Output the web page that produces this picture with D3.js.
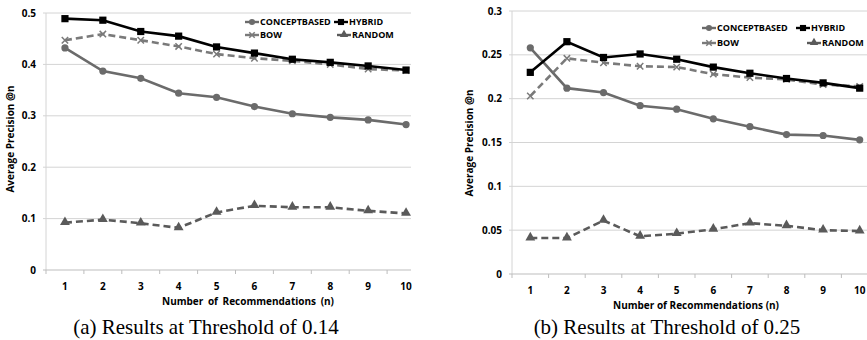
<!DOCTYPE html>
<html>
<head>
<meta charset="utf-8">
<script src="https://cdn.jsdelivr.net/npm/d3@7"></script>
<style>
  body { margin: 0; background: #fff; }
  svg { display: block; }
  .tick-label, .axis-title, .legend-text { font-family: "Open Sans", "DejaVu Sans", sans-serif; font-weight: bold; fill: #000; }
  .caption { font-family: "Liberation Serif", "Times New Roman", serif; fill: #000; }
</style>
</head>
<body>
<svg id="chart" width="867" height="340"></svg>
<script>
// categories (number of recommendations)
var nValues = [1, 2, 3, 4, 5, 6, 7, 8, 9, 10];
var seriesNames = ["CONCEPTBASED", "HYBRID", "BOW", "RANDOM"];

// (a) threshold 0.14
var conceptA = [0.432, 0.387, 0.373, 0.344, 0.336, 0.318, 0.304, 0.297, 0.292, 0.283];
var hybridA  = [0.489, 0.486, 0.464, 0.455, 0.434, 0.422, 0.410, 0.404, 0.397, 0.389];
var bowA     = [0.447, 0.459, 0.447, 0.435, 0.420, 0.412, 0.407, 0.400, 0.391, 0.388];
var randomA  = [0.092, 0.098, 0.091, 0.082, 0.112, 0.125, 0.122, 0.122, 0.115, 0.110];
var ticksA   = [0, 0.1, 0.2, 0.3, 0.4, 0.5];

// (b) threshold 0.25
var conceptB = [0.258, 0.212, 0.207, 0.192, 0.188, 0.177, 0.168, 0.159, 0.158, 0.153];
var hybridB  = [0.230, 0.265, 0.247, 0.251, 0.245, 0.236, 0.229, 0.223, 0.218, 0.212];
var bowB     = [0.203, 0.246, 0.241, 0.237, 0.236, 0.228, 0.224, 0.222, 0.216, 0.214];
var randomB  = [0.041, 0.041, 0.061, 0.043, 0.046, 0.051, 0.058, 0.055, 0.050, 0.049];
var ticksB   = [0, 0.05, 0.1, 0.15, 0.2, 0.25, 0.3];

var styles = {
    CONCEPTBASED : {color: "#6b6b6b", dash: null,  marker: "circle"},
    HYBRID       : {color: "#000000", dash: null,  marker: "square"},
    BOW          : {color: "#7a7a7a", dash: "7,4", marker: "cross"},
    RANDOM       : {color: "#5a5a5a", dash: "7,4", marker: "triangle"}
};

var svg = d3.select("#chart");

function drawMarker (g, kind, x, y, color, s) {
    if (kind === "circle") {
        g.append("circle").attr("cx", x).attr("cy", y).attr("r", 3.6 * s).attr("fill", color);
    } else if (kind === "square") {
        g.append("rect").attr("x", x - 3.6 * s).attr("y", y - 3.6 * s)
            .attr("width", 7.2 * s).attr("height", 7.2 * s).attr("fill", color);
    } else if (kind === "triangle") {
        g.append("path").attr("d", d3.symbol().type(d3.symbolTriangle).size(42 * s * s)())
            .attr("transform", "translate(" + x + "," + (y - 0.5) + ")").attr("fill", color);
    } else {
        var r = 3.2 * s;
        g.append("path").attr("d", "M" + (x - r) + "," + (y - r) + "L" + (x + r) + "," + (y + r) +
                                   "M" + (x - r) + "," + (y + r) + "L" + (x + r) + "," + (y - r))
            .attr("stroke", color).attr("stroke-width", 1.5).attr("fill", "none");
    }
}

function drawPanel (p) {
    var x = d3.scaleBand().domain(nValues).range([p.left, p.left + p.bandStep * nValues.length]),
        y = d3.scaleLinear().domain([0, d3.max(p.ticks)]).range([p.bottom, p.top]),
        g = svg.append("g");

    // gridlines
    g.selectAll(".grid")
        .data(p.ticks.filter(function (t) { return t > 0; }))
        .enter().append("line")
        .attr("x1", p.left - 3).attr("x2", p.gridEnd)
        .attr("y1", function (d) { return y(d); }).attr("y2", function (d) { return y(d); })
        .attr("stroke", "#d4d4d4").attr("stroke-width", 1);

    // y axis
    g.append("line").attr("x1", p.left).attr("x2", p.left).attr("y1", p.top).attr("y2", p.bottom)
        .attr("stroke", "#d4d4d4");
    g.selectAll(".ylab")
        .data(p.ticks).enter().append("text")
        .attr("class", "tick-label")
        .attr("x", p.left - 10).attr("y", function (d) { return y(d); })
        .attr("dy", "0.35em").attr("text-anchor", "end").style("font-size", "10px")
        .text(function (d) { return d; });

    // x axis
    g.append("line").attr("x1", p.left - 3).attr("x2", p.gridEnd).attr("y1", p.bottom).attr("y2", p.bottom)
        .attr("stroke", "#bdbdbd");
    g.selectAll(".xtick")
        .data(nValues).enter().append("line")
        .attr("x1", function (d) { return x(d); }).attr("x2", function (d) { return x(d); })
        .attr("y1", p.bottom).attr("y2", p.bottom + 4)
        .attr("stroke", "#bdbdbd");
    g.selectAll(".xlab")
        .data(nValues).enter().append("text")
        .attr("class", "tick-label")
        .attr("x", function (d) { return x(d) + x.bandwidth() / 2; })
        .attr("y", p.bottom + 20).attr("text-anchor", "middle").style("font-size", "10px")
        .text(function (d) { return d; });

    g.append("text").attr("class", "axis-title")
        .attr("x", p.xTitleX).attr("y", p.bottom + 35).attr("text-anchor", "middle")
        .style("font-size", "10px").style("word-spacing", p.wordSpacing)
        .text("Number of Recommendations (n)");

    g.append("text").attr("class", "axis-title")
        .attr("transform", "translate(" + p.yTitleX + "," + p.yTitleY + ") rotate(-90)")
        .attr("text-anchor", "middle").style("font-size", "10px")
        .text("Average Precision @n");

    // series
    var line = d3.line()
        .x(function (d, i) { return x(nValues[i]) + x.bandwidth() / 2; })
        .y(function (d) { return y(d); });

    var plot = g.append("g");
    ["RANDOM", "CONCEPTBASED", "BOW", "HYBRID"].forEach(function (name) {
        var st = styles[name], vals = p.series[name];
        plot.append("path").datum(vals)
            .attr("d", line).attr("fill", "none")
            .attr("stroke", st.color).attr("stroke-width", 2.6)
            .attr("stroke-dasharray", st.dash);
        vals.forEach(function (v, i) {
            drawMarker(plot, st.marker, x(nValues[i]) + x.bandwidth() / 2, y(v), st.color, 1);
        });
    });

    // legend
    p.legend.forEach(function (it) {
        var st = styles[it.name], lg = g.append("g");
        lg.append("line").attr("x1", it.x).attr("x2", it.x + 14).attr("y1", it.y).attr("y2", it.y)
            .attr("stroke", st.color).attr("stroke-width", 2.4);
        drawMarker(lg, st.marker, it.x + 7, it.y, st.color, 0.85);
        lg.append("text").attr("class", "legend-text")
            .attr("x", it.x + 15).attr("y", it.y).attr("dy", "0.35em")
            .style("font-size", "9px").text(it.name);
    });

    // caption
    svg.append("text").attr("class", "caption")
        .attr("x", p.captionX).attr("y", 334).attr("text-anchor", "middle")
        .style("font-size", "21px").text(p.caption);
}

drawPanel({
    left: 46, top: 13, bottom: 270, bandStep: 37.9, gridEnd: 411,
    ticks: ticksA,
    series: {CONCEPTBASED: conceptA, HYBRID: hybridA, BOW: bowA, RANDOM: randomA},
    xTitleX: 248, wordSpacing: "2px", yTitleX: 14, yTitleY: 139,
    legend: [{name: "CONCEPTBASED", x: 245, y: 22}, {name: "HYBRID", x: 334, y: 22},
             {name: "BOW", x: 245, y: 35}, {name: "RANDOM", x: 337, y: 35}],
    caption: "(a) Results at Threshold of 0.14", captionX: 206
});

drawPanel({
    left: 512, top: 11, bottom: 274, bandStep: 36.6, gridEnd: 867,
    ticks: ticksB,
    series: {CONCEPTBASED: conceptB, HYBRID: hybridB, BOW: bowB, RANDOM: randomB},
    xTitleX: 696, wordSpacing: "0px", yTitleX: 473, yTitleY: 143,
    legend: [{name: "CONCEPTBASED", x: 702, y: 28}, {name: "HYBRID", x: 796, y: 28},
             {name: "BOW", x: 702, y: 43}, {name: "RANDOM", x: 807, y: 43}],
    caption: "(b) Results at Threshold of 0.25", captionX: 667
});
</script>
</body>
</html>
